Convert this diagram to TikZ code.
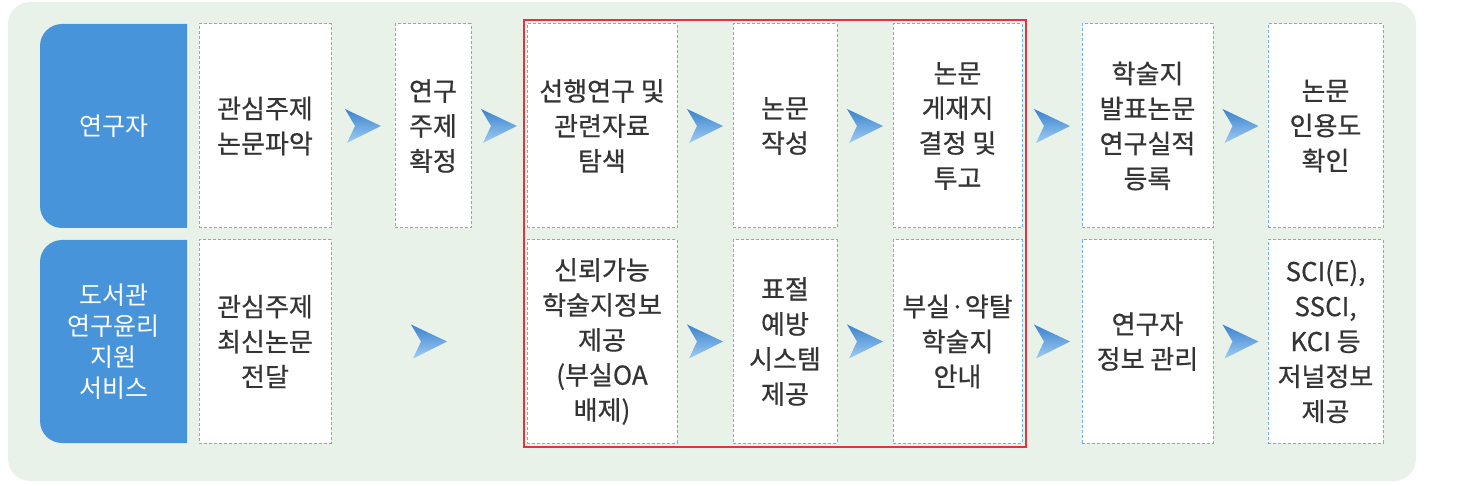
\documentclass[tikz,border=0pt]{standalone}
\usepackage{fontspec}
\setmainfont{Noto Sans CJK KR}
\newfontfamily\cellfont{Noto Sans CJK KR}[FakeBold=0.6]
\usetikzlibrary{fit,decorations.markings}
\definecolor{bgmint}{RGB}{233,242,233}
\definecolor{roleblue}{RGB}{72,148,218}
\definecolor{dashblue}{RGB}{110,175,235}
\definecolor{framered}{RGB}{226,52,62}
\definecolor{inktext}{RGB}{52,52,52}
\definecolor{planedark}{RGB}{58,130,206}
\definecolor{planelight}{RGB}{160,205,242}
\tikzset{
  cell/.style={draw=dashblue, dash pattern=on 3pt off 2pt, line width=1pt, fill=white,
    text=inktext, align=center, inner sep=0pt, font=\cellfont\fontsize{26}{35}\selectfont},
  rolebox/.style={minimum width=147pt, text=white, align=center, inner sep=0pt,
    font=\fontsize{25}{31}\selectfont,
    path picture={\fill[roleblue, rounded corners=22pt] (path picture bounding box.south west)
      rectangle ([xshift=40pt]path picture bounding box.north east);}},
  pointer/.style={decoration={markings, mark=at position 0.5 with
    {\shade[top color=planedark, bottom color=planelight]
      (-18pt,17pt) -- (18pt,0pt) -- (-16pt,-17pt) -- (-8pt,0pt) -- cycle;}},
    postaction={decorate}},
  focusframe/.style={draw=framered, line width=2pt, inner sep=3pt}
}
\begin{document}
\begin{tikzpicture}[x=1pt,y=1pt]
\useasboundingbox (0,0) rectangle (1476,-486);
\fill[bgmint, rounded corners=22pt] (8,-2) rectangle (1416,-481);
\node[rolebox, minimum height=204pt] (resrole) at (113.5,-126) {연구자};
\node[rolebox, minimum height=203pt] (librole) at (113.5,-341.5) {도서관\\연구윤리\\지원\\서비스};
\foreach \n/\x/\w/\t in {res1/265/132/{관심주제\\논문파악}, res2/433/76/{연구\\주제\\확정},
    res3/602/150/{선행연구 및\\관련자료\\탐색}, res4/785/104/{논문\\작성},
    res5/957.5/129/{논문\\게재지\\결정 및\\투고}, res6/1147.5/131/{학술지\\발표논문\\연구실적\\등록},
    res7/1325.5/115/{논문\\인용도\\확인}}
  \node[cell, minimum width=\w pt, minimum height=204pt] (\n) at (\x,-126) {\t};
\foreach \n/\x/\w/\t in {lib1/265/132/{관심주제\\최신논문\\전달},
    lib3/602/150/{신뢰가능\\학술지정보\\제공\\(부실OA\\배제)}, lib4/785/104/{표절\\예방\\시스템\\제공},
    lib5/957.5/129/{부실·약탈\\학술지\\안내}, lib6/1147.5/131/{연구자\\정보 관리},
    lib7/1325.5/115/{SCI(E),\\SSCI,\\KCI 등\\저널정보\\제공}}
  \node[cell, minimum width=\w pt, minimum height=203pt] (\n) at (\x,-341.5) {\t};
\node[focusframe, fit=(res3)(lib5)] (focus) {};
\foreach \a/\b in {res1/res2, res2/res3, res3/res4, res4/res5, res5/res6, res6/res7,
    lib1/lib3, lib3/lib4, lib4/lib5, lib5/lib6, lib6/lib7}
  \path[pointer] (\a) -- (\b);
\end{tikzpicture}
\end{document}
